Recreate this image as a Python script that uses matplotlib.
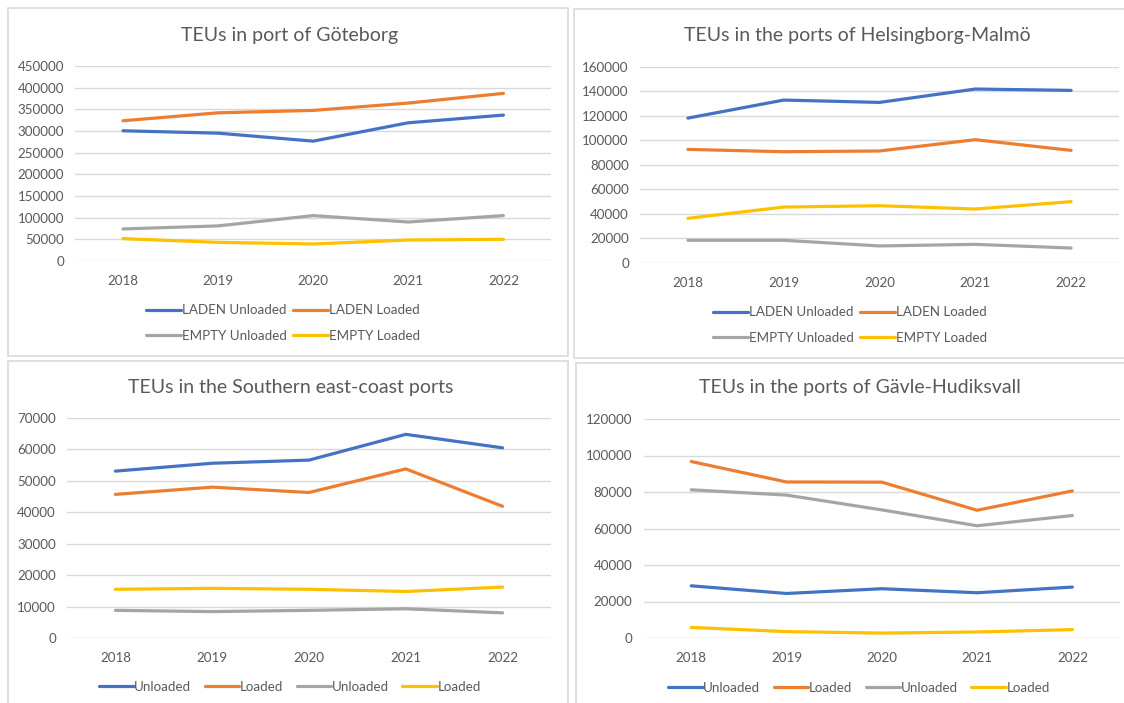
import matplotlib
matplotlib.use("Agg")
import matplotlib.pyplot as plt
from matplotlib.patches import Rectangle

plt.rcParams['font.family'] = ['Lato', 'DejaVu Sans']

W, H = 1124, 703

years = ["2018", "2019", "2020", "2021", "2022"]

# Göteborg
gbg_laden_unloaded = [300500, 295000, 276600, 319000, 336700]
gbg_laden_loaded = [323600, 342000, 347500, 364500, 386800]
gbg_empty_unloaded = [74000, 81000, 104800, 90000, 104800]
gbg_empty_loaded = [51600, 43000, 39300, 48500, 50000]

# Helsingborg-Malmö
hm_laden_unloaded = [118100, 132800, 130900, 141800, 140700]
hm_laden_loaded = [92600, 90700, 91300, 100500, 91800]
hm_empty_unloaded = [18500, 18500, 13900, 15200, 12200]
hm_empty_loaded = [36400, 45600, 46700, 44000, 50000]

# Southern east-coast
sec_unloaded_1 = [53100, 55600, 56600, 64800, 60500]
sec_loaded_1 = [45700, 48000, 46300, 53800, 41900]
sec_unloaded_2 = [8800, 8400, 8800, 9300, 8000]
sec_loaded_2 = [15500, 15800, 15500, 14800, 16200]

# Gävle-Hudiksvall
gh_unloaded_1 = [28600, 24400, 27000, 24800, 27900]
gh_loaded_1 = [96700, 85500, 85400, 70000, 80600]
gh_unloaded_2 = [81200, 78300, 70200, 61500, 67100]
gh_loaded_2 = [5800, 3500, 2700, 3300, 4600]

COLORS = ["#4472C4", "#ED7D31", "#A5A5A5", "#FFC000"]
TXT = "#595959"
GRID = "#D9D9D9"

fig = plt.figure(figsize=(W / 100, H / 100), dpi=100)


def fx(px):
    return px / W


def fy(py):
    return 1 - py / H


def panel_border(x0, y0, x1, y1):
    fig.patches.append(Rectangle((fx(x0), fy(y1)), fx(x1) - fx(x0), fy(y0) - fy(y1),
                                 transform=fig.transFigure, fill=False,
                                 edgecolor=GRID, lw=1.2))


def panel(rect, ymax, step, series, labels, title, title_xy, leg_xy, ncol):
    x0, x1, ytop, ybot = rect
    ax = fig.add_axes([fx(x0), fy(ybot), fx(x1) - fx(x0), fy(ytop) - fy(ybot)])
    xs = range(len(years))
    lines = []
    for vals, c, lab in zip(series, COLORS, labels):
        ln, = ax.plot(xs, vals, color=c, lw=2.3, label=lab, solid_capstyle="round")
        lines.append(ln)
    ax.set_xlim(-0.5, len(years) - 0.5)
    ax.set_ylim(0, ymax)
    ax.set_yticks(range(0, ymax + 1, step))
    ax.set_xticks(list(xs))
    ax.set_xticklabels(years)
    ax.grid(axis="y", color=GRID, lw=1.0)
    ax.set_axisbelow(True)
    for s in ax.spines.values():
        s.set_visible(False)
    ax.tick_params(axis="both", length=0, labelsize=9.6, labelcolor=TXT)
    ax.tick_params(axis="y", pad=8)
    ax.tick_params(axis="x", pad=10)
    fig.text(fx(title_xy[0]), fy(title_xy[1]), title, ha="center", va="center",
             fontsize=14, color=TXT)
    if ncol == 2:
        # legend fills by column, so reorder to get rows of (laden, laden), (empty, empty)
        lines = [lines[0], lines[2], lines[1], lines[3]]
    ax.legend(handles=lines, loc="center", bbox_to_anchor=(fx(leg_xy[0]), fy(leg_xy[1])),
              bbox_transform=fig.transFigure, ncol=ncol, frameon=False,
              fontsize=9.6, labelcolor=TXT, handlelength=2.6, handletextpad=0.05,
              columnspacing=0.5 if ncol == 2 else 1.0, labelspacing=1.0)
    return ax


panel_border(8, 8, 568, 356)
panel_border(574, 9, 1130, 358)
panel_border(8, 361, 568, 710)
panel_border(576, 363, 1130, 710)

panel((75.4, 551, 66, 261), 450000, 50000,
      [gbg_laden_unloaded, gbg_laden_loaded, gbg_empty_unloaded, gbg_empty_loaded],
      ["LADEN Unloaded", "LADEN Loaded", "EMPTY Unloaded", "EMPTY Loaded"],
      "TEUs in port of Göteborg", (290, 36), (283, 323), 2)

panel((640, 1119, 66.7, 263), 160000, 20000,
      [hm_laden_unloaded, hm_laden_loaded, hm_empty_unloaded, hm_empty_loaded],
      ["LADEN Unloaded", "LADEN Loaded", "EMPTY Unloaded", "EMPTY Loaded"],
      "TEUs in the ports of Helsingborg-Malmö", (857, 35), (850, 325), 2)

panel((67, 551, 418, 638), 70000, 10000,
      [sec_unloaded_1, sec_loaded_1, sec_unloaded_2, sec_loaded_2],
      ["Unloaded", "Loaded", "Unloaded", "Loaded"],
      "TEUs in the Southern east-coast ports", (291, 387), (290, 687), 4)

panel((643.6, 1120, 419, 638), 120000, 20000,
      [gh_unloaded_1, gh_loaded_1, gh_unloaded_2, gh_loaded_2],
      ["Unloaded", "Loaded", "Unloaded", "Loaded"],
      "TEUs in the ports of Gävle-Hudiksvall", (860, 387), (859, 688), 4)

fig.savefig("out.png", dpi=100, facecolor="white")
